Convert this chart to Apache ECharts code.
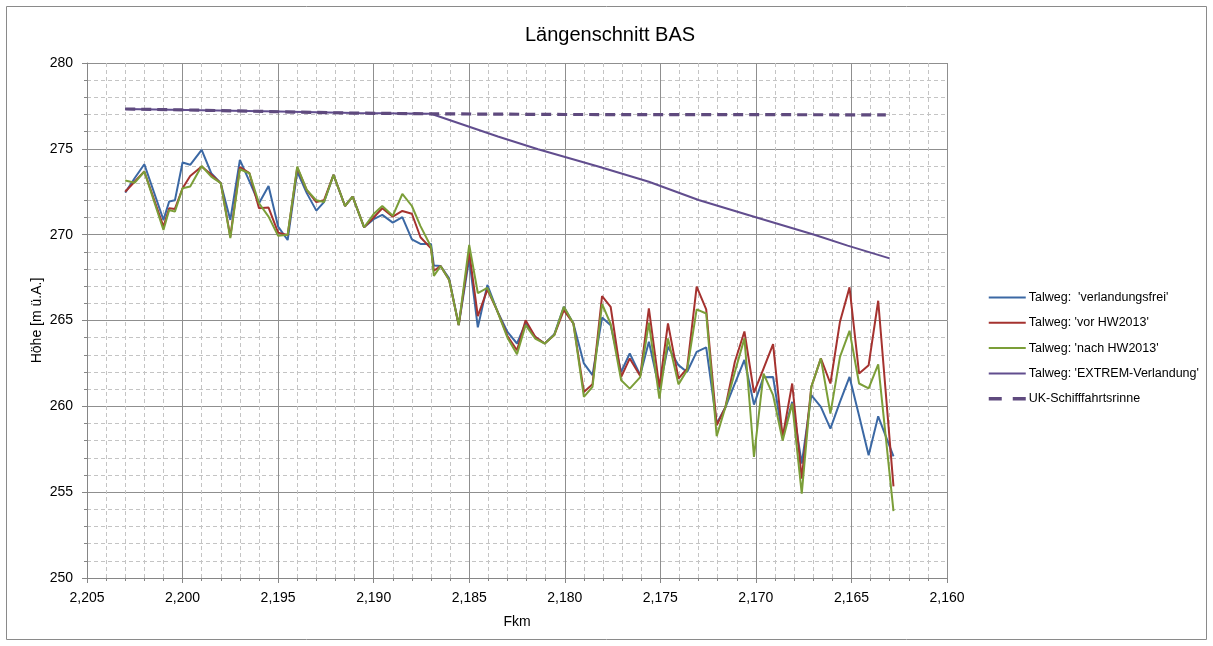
<!DOCTYPE html>
<html>
<head>
<meta charset="utf-8">
<script src="https://cdn.jsdelivr.net/npm/echarts@6/dist/echarts.min.js"></script>
<style>
html,body{margin:0;padding:0;background:#fff;}
#chart{width:1213px;height:646px;}
</style>
</head>
<body>
<div id="chart"></div>
<script>
// Fkm stations of the Talweg profiles
var fkm = [2203.0, 2202.5, 2202.0, 2201.0, 2200.7, 2200.4, 2200.0, 2199.6, 2199.0, 2198.5,
  2198.0, 2197.5, 2197.0, 2196.5, 2196.0, 2195.5, 2195.0, 2194.5, 2194.0, 2193.5,
  2193.0, 2192.6, 2192.1, 2191.5, 2191.1, 2190.5, 2190.0, 2189.55, 2189.0, 2188.5,
  2188.0, 2187.55, 2187.0, 2186.85, 2186.5, 2186.05, 2185.55, 2185.0, 2184.55, 2184.05,
  2183.55, 2183.0, 2182.5, 2182.05, 2181.55, 2181.05, 2180.55, 2180.05, 2179.55, 2179.0,
  2178.55, 2178.05, 2177.6, 2177.05, 2176.6, 2176.05, 2175.6, 2175.05, 2174.6, 2174.05,
  2173.6, 2173.1, 2172.6, 2172.05, 2171.6, 2171.1, 2170.6, 2170.1, 2169.6, 2169.1,
  2168.6, 2168.1, 2167.6, 2167.1, 2166.6, 2166.1, 2165.6, 2165.1, 2164.6, 2164.1,
  2163.6, 2162.8];

var verlandungsfrei = [272.45, 273.3, 274.1, 270.86, 271.93, 272.0, 274.2, 274.07, 274.94, 273.58,
  273.0, 270.86, 274.36, 273.1, 271.83, 272.84, 270.47, 269.69, 273.68, 272.42,
  271.4, 271.9, 273.48, 271.67, 272.22, 270.43, 270.9, 271.15, 270.7, 271.02,
  269.73, 269.46, 269.46, 268.2, 268.17, 267.45, 264.73, 268.6, 264.6, 267.07,
  265.6, 264.34, 263.66, 264.85, 264.05, 263.66, 264.2, 265.8, 264.83, 262.5,
  261.82, 265.17, 264.73, 262.0, 263.08, 261.82, 263.76, 260.99, 263.47, 262.4,
  262.0, 263.17, 263.43, 259.0, 259.93, 261.33, 262.7, 260.1, 261.7, 261.71,
  258.2, 260.26, 256.66, 260.65, 259.97, 258.7, 260.26, 261.71, 259.45, 257.15,
  259.42, 257.08];

var vorHW2013 = [272.5, 273.1, 273.68, 270.47, 271.54, 271.5, 272.7, 273.42, 273.97, 273.5,
  273.0, 269.88, 273.93, 273.58, 271.54, 271.58, 270.12, 269.98, 273.9, 272.6,
  271.9, 272.0, 273.48, 271.67, 272.22, 270.43, 271.0, 271.54, 271.05, 271.38,
  271.22, 269.85, 269.2, 267.9, 268.17, 267.36, 264.73, 269.0, 265.26, 266.8,
  265.6, 264.1, 263.27, 265.02, 264.05, 263.66, 264.15, 265.6, 264.83, 260.84,
  261.28, 266.42, 265.8, 261.71, 262.79, 261.77, 265.71, 261.1, 264.83, 261.62,
  262.2, 266.97, 265.65, 258.9, 259.93, 262.6, 264.36, 260.8, 262.2, 263.62,
  258.2, 261.33, 255.79, 261.13, 262.79, 261.33, 264.93, 266.93, 261.91, 262.4,
  266.15, 255.34];

var nachHW2013 = [273.15, 273.03, 273.68, 270.27, 271.44, 271.34, 272.7, 272.8, 274.0, 273.38,
  273.0, 269.8, 273.81, 273.58, 271.83, 271.05, 269.93, 270.0, 273.97, 272.6,
  272.0, 271.9, 273.48, 271.67, 272.22, 270.43, 271.2, 271.67, 271.1, 272.37,
  271.67, 270.5, 269.3, 267.6, 268.17, 267.36, 264.73, 269.4, 266.6, 266.9,
  265.6, 264.0, 263.04, 264.73, 263.95, 263.66, 264.15, 265.8, 264.83, 260.55,
  261.13, 265.96, 264.8, 261.52, 261.03, 261.7, 264.87, 260.45, 263.96, 261.28,
  262.1, 265.65, 265.41, 258.26, 259.93, 262.0, 263.96, 257.05, 261.91, 260.65,
  258.0, 260.16, 254.91, 261.13, 262.79, 259.58, 262.88, 264.4, 261.33, 261.04,
  262.45, 253.9];

// EXTREM-Verlandung profile
var extremFkm = [2203, 2199, 2195, 2191, 2187, 2183.5, 2181.4, 2178.25, 2175.6, 2173.0, 2170.4, 2166.9, 2165.2, 2163.0];
var extremVal = [277.32, 277.25, 277.17, 277.09, 277.04, 275.72, 274.98, 273.97, 273.08, 272.02, 271.15, 269.98, 269.36, 268.62];

// UK-Schifffahrtsrinne
var ukFkm = [2203, 2199, 2195, 2191, 2187, 2180, 2170, 2163.2];
var ukVal = [277.32, 277.25, 277.16, 277.08, 277.04, 277.0, 276.99, 276.98];

var seriesNames = ["Talweg:  'verlandungsfrei'", "Talweg: 'vor HW2013'", "Talweg: 'nach HW2013'", "Talweg: 'EXTREM-Verlandung'", "UK-Schifffahrtsrinne"];

function pairs(xs, ys) { return xs.map(function (x, i) { return [x, ys[i]]; }); }
function thousands(v) { return String(v).replace(/\B(?=(\d{3})+(?!\d))/g, ','); }

var FONT = 'Liberation Sans';
var chart = echarts.init(document.getElementById('chart'), null, {renderer: 'canvas'});

var axisCommon = {
  axisLine: {show: true, lineStyle: {color: '#868686', width: 1}},
  axisTick: {show: true, length: 5, lineStyle: {color: '#868686'}},
  minorTick: {show: true, splitNumber: 5, length: 3, lineStyle: {color: '#868686'}},
  splitLine: {show: true, lineStyle: {color: '#8f8f8f', width: 1}},
  minorSplitLine: {show: true, lineStyle: {color: '#c4c4c4', width: 1, type: [4, 3]}},
  axisLabel: {color: '#000', fontFamily: FONT, fontSize: 14}
};

chart.setOption({
  animation: false,
  backgroundColor: '#fff',
  title: {
    text: 'Längenschnitt BAS',
    left: 520, top: 20,
    textStyle: {fontFamily: FONT, fontSize: 20, fontWeight: 'normal', color: '#000'}
  },
  legend: {
    orient: 'vertical',
    left: 982, top: 286,
    itemWidth: 37, itemHeight: 14, itemGap: 12.3,
    itemStyle: {opacity: 0},
    textStyle: {fontFamily: FONT, fontSize: 12.5, color: '#000', padding: [0, 0, 0, -2]},
    data: [
      seriesNames[0], seriesNames[1], seriesNames[2], seriesNames[3],
      {name: seriesNames[4], lineStyle: {width: 3.5, type: [13, 11]}}
    ]
  },
  grid: {left: 87, right: 266, top: 63, bottom: 68, containLabel: false},
  xAxis: Object.assign({}, axisCommon, {
    type: 'value', min: 2160, max: 2205, interval: 5, inverse: true,
    name: 'Fkm', nameLocation: 'middle', nameGap: 37, nameMoveOverlap: false,
    nameTextStyle: {fontFamily: FONT, fontSize: 14, color: '#000'},
    axisLabel: {color: '#000', fontFamily: FONT, fontSize: 14, margin: 13, formatter: thousands}
  }),
  yAxis: Object.assign({}, axisCommon, {
    type: 'value', min: 250, max: 280, interval: 5,
    name: 'Höhe [m ü.A.]', nameLocation: 'middle', nameGap: 43, nameMoveOverlap: false,
    nameTextStyle: {fontFamily: FONT, fontSize: 14, color: '#000'},
    axisLabel: {color: '#000', fontFamily: FONT, fontSize: 14, margin: 14}
  }),
  graphic: [{
    type: 'rect', silent: true, z: -1,
    shape: {x: 6.5, y: 6.5, width: 1200, height: 633},
    style: {fill: 'none', stroke: '#8a8a8a', lineWidth: 1}
  }],
  series: [
    {name: seriesNames[0], type: 'line', data: pairs(fkm, verlandungsfrei), symbol: 'none',
     lineStyle: {color: '#3B68A4', width: 2}, itemStyle: {color: '#3B68A4'}},
    {name: seriesNames[1], type: 'line', data: pairs(fkm, vorHW2013), symbol: 'none',
     lineStyle: {color: '#A5322F', width: 2}, itemStyle: {color: '#A5322F'}},
    {name: seriesNames[2], type: 'line', data: pairs(fkm, nachHW2013), symbol: 'none',
     lineStyle: {color: '#7B9E38', width: 2}, itemStyle: {color: '#7B9E38'}},
    {name: seriesNames[3], type: 'line', data: pairs(extremFkm, extremVal), symbol: 'none',
     lineStyle: {color: '#614D8E', width: 2}, itemStyle: {color: '#614D8E'}},
    {name: seriesNames[4], type: 'line', data: pairs(ukFkm, ukVal), symbol: 'none',
     lineStyle: {color: '#5F4A7E', width: 3.2, type: [10, 6]}, itemStyle: {color: '#5F4A7E'}}
  ]
});
</script>
</body>
</html>
